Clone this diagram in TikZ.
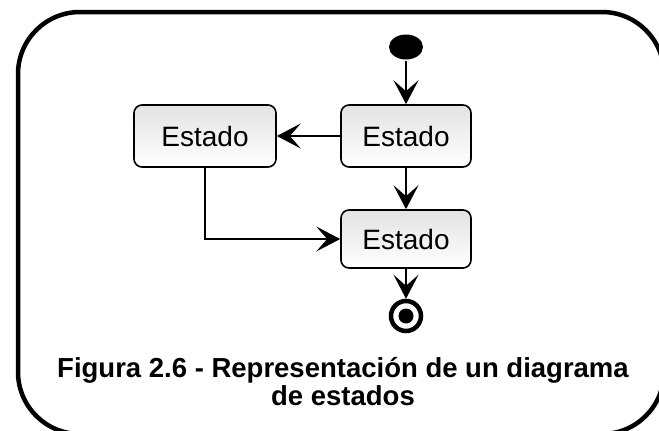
\documentclass[tikz,border=0pt]{standalone}
\usepackage{fontspec}
\setmainfont{Liberation Sans}
\usetikzlibrary{arrows.meta,positioning,shapes.geometric}

\tikzset{
  estado/.style={draw,line width=1.6pt,rounded corners=8pt,top color=gray!22,bottom color=white,
    minimum width=130pt,minimum height=62pt,inner sep=0pt,font=\fontsize{28}{32}\selectfont},
  inicio/.style={ellipse,fill=black,minimum width=34pt,minimum height=25pt,inner sep=0pt},
  fin/.style={circle,draw,line width=4.5pt,fill=white,minimum size=30pt,inner sep=0pt,
    path picture={\fill[black] (path picture bounding box.center) circle (7.5pt);}}
}

\begin{document}
\begin{tikzpicture}
    [x=1pt,y=-1pt,>={Stealth[length=24pt,width=25pt,inset=11pt]},line width=2pt,
     node distance=89pt,on grid]
\useasboundingbox (0,0) rectangle (659,431);
\draw[line width=4.5pt,rounded corners=62pt] (18,12) rectangle (664,434);

\node[inicio](ini) at (406,47) {};
\node[estado](A)[below = of ini]{Estado};
\node[estado,minimum width=142pt](L)[left = 201pt of A]{Estado};
\node[estado,minimum height=58pt](B)[below = 103pt of A]{Estado};
\node[fin](f)[below = 77pt of B]{};

\path[->]
    (ini) edge (A)
    (A) edge (L)
    (A) edge (B)
    (B) edge (f);
\draw[->] (L) |- (B);

\node[font=\bfseries\fontsize{27.5}{28}\selectfont,align=center,anchor=base](caption) at (343,405)
    {Figura 2.6 - Representación de un diagrama\\de estados};
\end{tikzpicture}
\end{document}
